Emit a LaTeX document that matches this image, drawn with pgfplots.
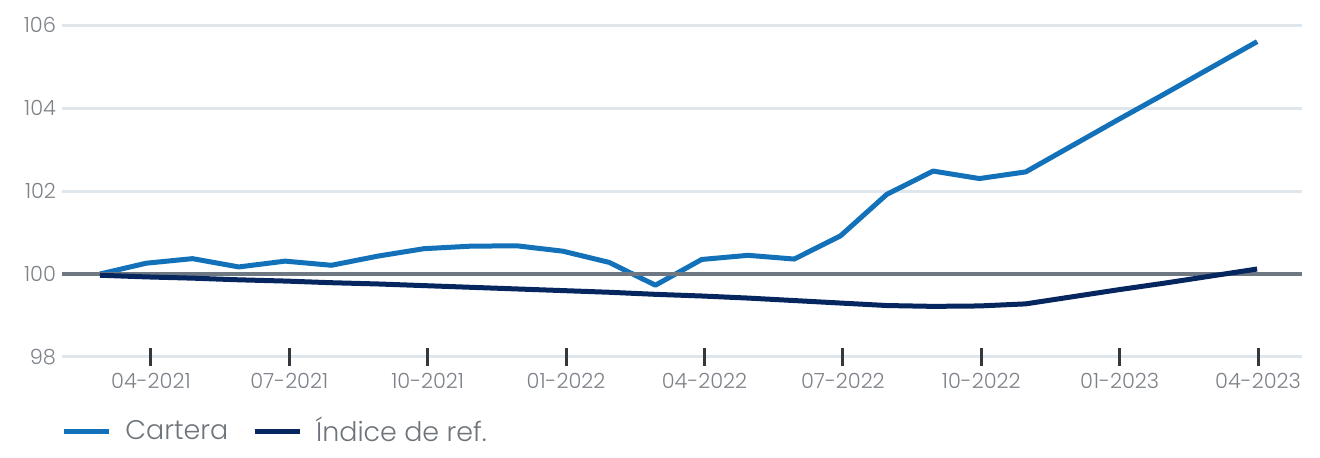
\documentclass[border=0pt]{standalone}
\usepackage{fontspec}
\IfFontExistsTF{Poppins Light}{\setmainfont{Poppins Light}}{\setmainfont{Poppins}}
\usepackage{pgfplots}
\pgfplotsset{compat=1.18}

\definecolor{cartera}{HTML}{1271B9}
\definecolor{indice}{HTML}{06265F}
\definecolor{gridc}{HTML}{DFE7ED}
\definecolor{refline}{HTML}{6D7883}
\definecolor{labelc}{HTML}{7D8289}
\definecolor{legc}{HTML}{6E747C}
\definecolor{tickc}{HTML}{33383C}

\begin{document}
\begin{tikzpicture}
\begin{axis}[
    scale only axis,
    width=620bp, height=166bp,
    xmin=-0.82, xmax=25.97,
    ymin=98, ymax=106,
    ytick={98,100,...,106},
    xtick={1.1,4.09,7.08,10.07,13.06,16.05,19.04,22.03,25.02},
    xticklabels={04-2021,07-2021,10-2021,01-2022,04-2022,07-2022,10-2022,01-2023,04-2023},
    xtick pos=bottom,
    axis line style={draw=none},
    ymajorgrids,
    grid style={draw=gridc, line width=1.5bp},
    tick align=center,
    major tick length=9bp,
    xtick style={draw=tickc, line width=1.5bp},
    ytick style={draw=none},
    tick label style={font=\fontsize{10.5}{12}\selectfont, text=labelc},
    yticklabel style={xshift=5bp},
    /pgf/number format/assume math mode=true,
    clip=false,
    legend style={at={(axis description cs:-0.0056,-0.223)}, anchor=west,
        draw=none, fill=none, legend columns=2,
        font=\fontsize{13.5}{16}\selectfont, text=legc,
        /tikz/every odd column/.append style={column sep=5bp},
        /tikz/every even column/.append style={column sep=10bp}},
    legend image code/.code={\draw[#1] (0bp,0bp) -- (22.5bp,0bp);},
]
% frame of the whole picture (1320x458 px at 0.5bp per px)
\path (axis description cs:-0.05,-0.3042) rectangle (axis description cs:1.0145,1.0753);

\addplot[cartera, line width=2.5bp, line join=round] coordinates {
(0,100.00) (1,100.26) (2,100.37) (3,100.17) (4,100.31) (5,100.21)
(6,100.43) (7,100.61) (8,100.67) (9,100.68) (10,100.55) (11,100.28)
(12,99.73) (13,100.35) (14,100.45) (15,100.36) (16,100.92) (17,101.92)
(18,102.48) (19,102.30) (20,102.46) (21,103.09) (22,103.72) (23,104.34)
(24,104.97) (25,105.60)
};
\addlegendentry{Cartera}

\draw[refline, line width=2bp] (axis cs:-0.82,100) -- (axis cs:25.97,100);

\addplot[indice, line width=2.5bp, line join=round] coordinates {
(0,99.97) (1,99.93) (2,99.90) (3,99.86) (4,99.83) (5,99.79)
(6,99.76) (7,99.72) (8,99.68) (9,99.64) (10,99.60) (11,99.56)
(12,99.51) (13,99.47) (14,99.42) (15,99.36) (16,99.30) (17,99.24)
(18,99.22) (19,99.23) (20,99.28) (21,99.45) (22,99.62) (23,99.78)
(24,99.95) (25,100.12)
};
\addlegendentry{Índice de ref.}
\end{axis}
\end{tikzpicture}
\end{document}
